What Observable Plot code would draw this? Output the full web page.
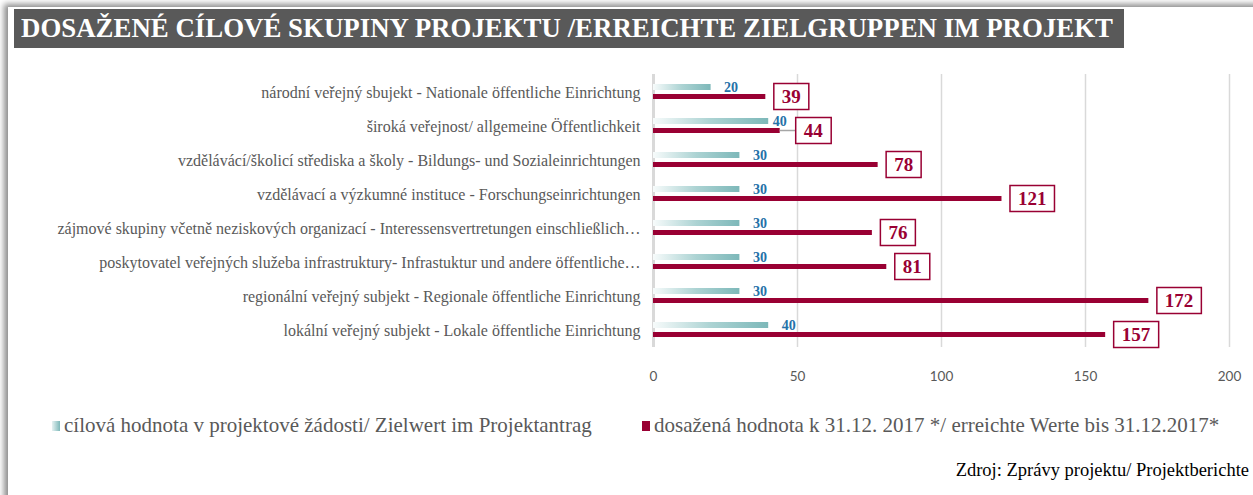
<!DOCTYPE html>
<html>
<head>
<meta charset="utf-8">
<script src="https://cdn.jsdelivr.net/npm/d3@7"></script>
<script src="https://cdn.jsdelivr.net/npm/@observablehq/plot@0.6"></script>
<style>
  html, body { margin: 0; padding: 0; background: #fff; width: 1253px; height: 495px; overflow: hidden; }
  #page { position: absolute; left: 8px; top: 7px; width: 1270px; height: 520px; background: #fff;
          box-shadow: -4px -3px 6px rgba(0,0,0,0.45); }
  #title { position: absolute; left: 14px; top: 9px; width: 1110px; height: 39px; background: #595959;
           overflow: hidden; white-space: nowrap; }
  #title span { position: absolute; left: 7px; top: 0; line-height: 39px; color: #fff;
           font-family: "Liberation Serif", serif; font-weight: bold; font-size: 27px; transform-origin: 0 50%; }
  #chart { position: absolute; left: 0; top: 60px; }
  .leg { position: absolute; top: 413px; font-family: "Liberation Serif", serif; font-size: 21px; color: #595959; white-space: nowrap; }
  .leg i { display: inline-block; width: 8px; height: 10px; margin-right: 4px; vertical-align: 1px; }
  #source { position: absolute; top: 460px; right: 4px; font-family: "Liberation Serif", serif; font-size: 18.5px; color: #000; white-space: nowrap; }
</style>
</head>
<body>
<div id="page"></div>
<div id="title"><span>DOSAŽENÉ CÍLOVÉ SKUPINY PROJEKTU /ERREICHTE ZIELGRUPPEN IM PROJEKT</span></div>
<div id="chart"></div>
<div class="leg" style="left:52px"><i style="background:linear-gradient(to right,#e6f2f2,#7db8b9)"></i>cílová hodnota v projektové žádosti/ Zielwert im Projektantrag</div>
<div class="leg" style="left:642px"><i style="background:#990033"></i>dosažená hodnota k 31.12. 2017 */ erreichte Werte bis 31.12.2017*</div>
<div id="source">Zdroj: Zprávy projektu/ Projektberichte</div>
<script>
const categories = [
  "národní veřejný sbujekt - Nationale öffentliche Einrichtung",
  "široká veřejnost/ allgemeine Öffentlichkeit",
  "vzdělávácí/školicí střediska a školy - Bildungs- und Sozialeinrichtungen",
  "vzdělávací a výzkumné instituce - Forschungseinrichtungen",
  "zájmové skupiny včetně neziskových organizací - Interessensvertretungen einschließlich…",
  "poskytovatel veřejných služeba infrastruktury- Infrastuktur und andere öffentliche…",
  "regionální veřejný subjekt - Regionale öffentliche Einrichtung",
  "lokální veřejný subjekt - Lokale öffentliche Einrichtung"
];
const targetValues = [20, 40, 30, 30, 30, 30, 30, 40];
const achievedValues = [39, 44, 78, 121, 76, 81, 172, 157];
const xTicks = [0, 50, 100, 150, 200];

const target = categories.map((c, i) => ({cat: c, v: targetValues[i]}));
const achieved = categories.map((c, i) => ({cat: c, v: achievedValues[i]}));

const CRIMSON = "#990033";
const GRID = "#d9d9d9";

const chart = Plot.plot({
  width: 1253,
  height: 335,
  marginLeft: 653,
  marginRight: 24,
  marginTop: 14,
  marginBottom: 48,
  style: {background: "transparent", overflow: "visible"},
  x: {domain: [0, 200]},
  y: {domain: categories, padding: 0},
  marks: [
    Plot.gridX({ticks: xTicks.slice(1), stroke: GRID, strokeOpacity: 1, strokeWidth: 1.5}),
    Plot.ruleX([0], {stroke: GRID, strokeWidth: 3}),
    Plot.barX(target, {x: "v", y: "cat", fill: "url(#tealGrad)", insetTop: 9, insetBottom: 19}),
    Plot.barX(achieved, {x: "v", y: "cat", fill: CRIMSON, insetTop: 19, insetBottom: 10}),
    Plot.text(target, {x: "v", y: "cat", text: "v", dx: 13, dy: -5, textAnchor: "start",
      fill: "#2471a8", fontWeight: "bold", fontSize: 14, fontFamily: "Liberation Serif, serif"}),
    Plot.text(achieved, {x: "v", y: "cat", text: "v", dx: 16, dy: 4.5, textAnchor: "start",
      fill: CRIMSON, fontWeight: "bold", fontSize: 19, fontFamily: "Liberation Serif, serif"}),
    Plot.axisY({tickSize: 0, tickPadding: 13, label: null, fontSize: 16, fontFamily: "Liberation Serif, serif", color: "#595959"}),
    Plot.axisX({ticks: xTicks, tickSize: 0, tickPadding: 24, label: null, fontSize: 13.5, fontFamily: "Lato, sans-serif", color: "#595959"})
  ]
});

document.getElementById("chart").appendChild(chart);

// gradient definition for the target bars
const svg = d3.select(chart);
const defs = svg.insert("defs", ":first-child");
const grad = defs.append("linearGradient").attr("id", "tealGrad").attr("x1", "0").attr("x2", "1").attr("y1", "0").attr("y2", "0");
grad.append("stop").attr("offset", "0").attr("stop-color", "#f7fbfb");
grad.append("stop").attr("offset", "0.5").attr("stop-color", "#acd3d3");
grad.append("stop").attr("offset", "1").attr("stop-color", "#7db8b9");

// boxes around achieved labels, with simple collision avoidance against target labels
const textGroups = svg.selectAll('g[aria-label="text"]').nodes();
const barGroups = svg.selectAll('g[aria-label="bar"]').nodes();
const tLabels = Array.from(textGroups[0].querySelectorAll("text"));
const aLabels = Array.from(textGroups[1].querySelectorAll("text"));
const aBars = Array.from(barGroups[1].querySelectorAll("rect"));
const boxLayer = svg.insert("g", () => textGroups[1]);
const origin = chart.getBoundingClientRect();
const box = el => {
  const r = el.getBoundingClientRect();
  return {x: r.left - origin.left, y: r.top - origin.top, w: r.width, h: r.height};
};
const padX = 8, boxH = 26;
aLabels.forEach((t, i) => {
  const br = box(aBars[i]);
  const barEnd = br.x + br.w;
  const barMid = br.y + br.h / 2;
  let bb = box(t);
  let boxLeft = bb.x - padX;
  const tl = tLabels[i];
  let tb = box(tl);
  const overlap = tb.x + tb.w > boxLeft && tb.y + tb.h > barMid - boxH / 2;
  if (overlap) {
    tl.setAttribute("dx", "-9");
    tb = box(tl);
    const newLeft = tb.x + tb.w + 9;
    t.setAttribute("dx", String(newLeft - boxLeft));
    bb = box(t);
    boxLeft = bb.x - padX;
    boxLayer.append("line")
      .attr("x1", barEnd).attr("x2", boxLeft).attr("y1", barMid).attr("y2", barMid)
      .attr("stroke", "#a6a6a6").attr("stroke-width", 1.5);
  }
  boxLayer.append("rect")
    .attr("x", boxLeft).attr("y", barMid - boxH / 2)
    .attr("width", bb.w + 2 * padX).attr("height", boxH)
    .attr("fill", "#fff").attr("stroke", CRIMSON).attr("stroke-width", 1.5);
});

// fit title text to the reference width
const ts = document.querySelector("#title span");
const w = ts.getBoundingClientRect().width;
ts.style.transform = `scaleX(${1092 / w})`;
</script>
</body>
</html>
